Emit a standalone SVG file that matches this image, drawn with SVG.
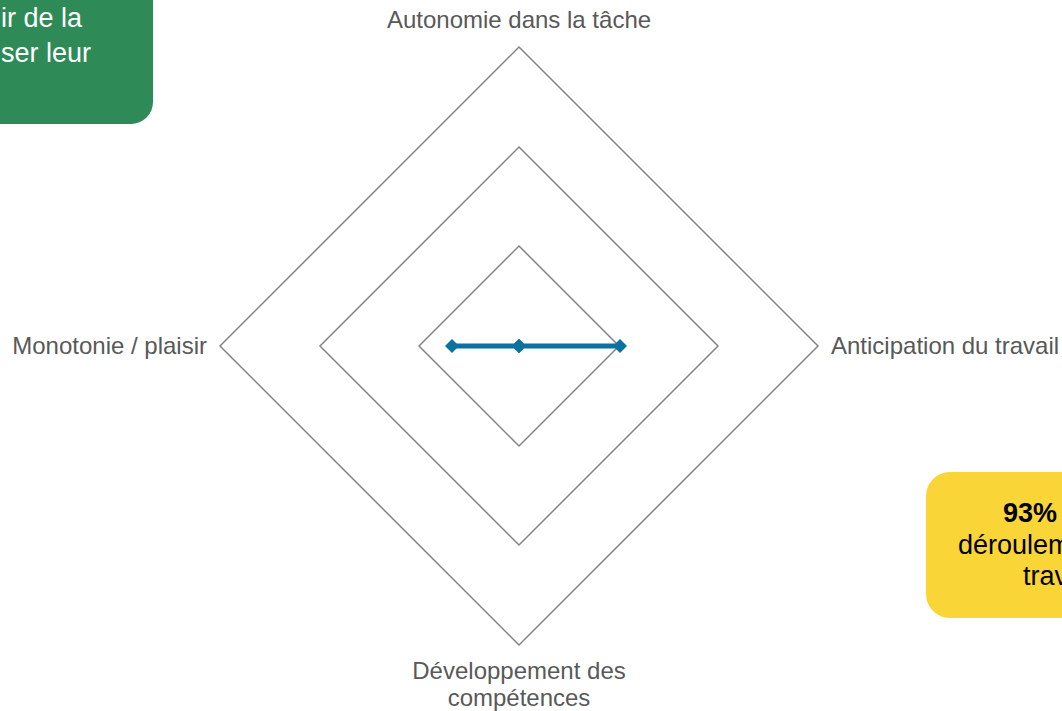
<svg xmlns="http://www.w3.org/2000/svg" width="1062" height="711" viewBox="0 0 1062 711">
<style>
.grid{fill:none;stroke:#858585;stroke-width:1.5}
.axis{font-family:"Liberation Sans",Arial,sans-serif;font-size:24px;fill:#595959}
.box{font-family:"Liberation Sans",Arial,sans-serif;font-size:27px}
.data{fill:none;stroke:#0A72A0;stroke-width:5;stroke-linejoin:round}
</style>
<defs>
<marker id="dm" viewBox="-8 -8 16 16" markerWidth="16" markerHeight="16" markerUnits="userSpaceOnUse" refX="0" refY="0">
<path d="M0,-7 L7,0 L0,7 L-7,0 Z" fill="#0A72A0"/>
</marker>
</defs>
<rect width="1062" height="711" fill="#ffffff"/>
<g id="grid">
<polygon class="grid" points="519,47 818,346 519,645 220,346"/>
<polygon class="grid" points="519,147 718,346 519,545 320,346"/>
<polygon class="grid" points="519,246 619,346 519,446 419,346"/>
</g>
<g id="series">
<polyline class="data" points="519,346 620,346 519,346 452,346 519,346" marker-start="url(#dm)" marker-mid="url(#dm)" marker-end="url(#dm)"/>
</g>
<g id="labels">
<text class="axis" x="519" y="28" text-anchor="middle">Autonomie dans la tâche</text>
<text class="axis" x="831" y="354">Anticipation du travail</text>
<text class="axis" x="207" y="354" text-anchor="end">Monotonie / plaisir</text>
<text class="axis" x="519" y="679" text-anchor="middle">Développement des</text>
<text class="axis" x="519" y="706" text-anchor="middle">compétences</text>
</g>
<g id="green-box">
<rect x="-60" y="-40" width="213" height="164" rx="22" fill="#2E8B57"/>
<text class="box" x="1" y="27" fill="#ffffff">ir de la</text>
<text class="box" x="1" y="62" fill="#ffffff">ser leur</text>
</g>
<g id="yellow-box">
<rect x="926" y="472" width="200" height="146" rx="24" fill="#F9D537"/>
<text class="box" x="1003" y="522" fill="#000000" font-weight="bold">93%</text>
<text class="box" x="958" y="554" fill="#000000">déroulem</text>
<text class="box" x="1023" y="585" fill="#000000">trav</text>
</g>
</svg>
